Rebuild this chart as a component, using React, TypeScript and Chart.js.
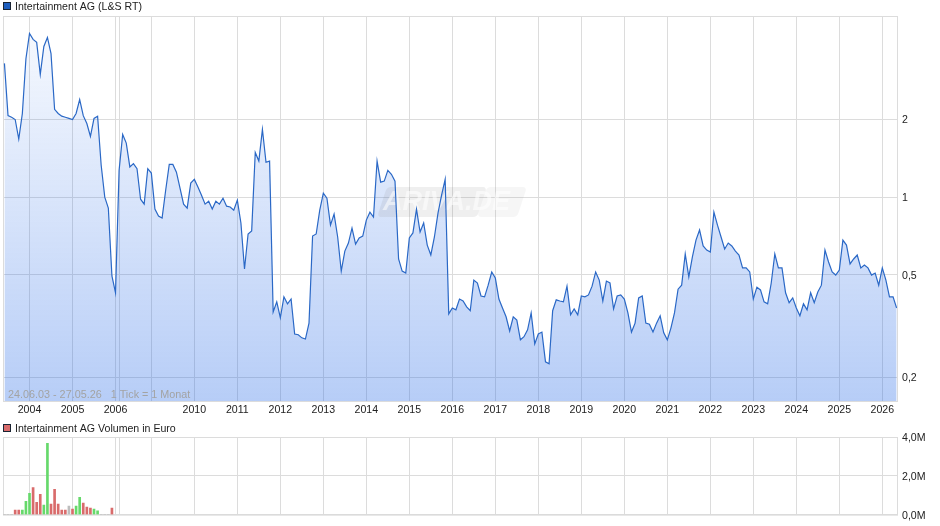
import { useEffect, useRef } from "react"
import { Chart, registerables } from "chart.js"

Chart.register(...registerables)

// monthly closing price (the axis skips 2006-2009 almost completely)
const prices = [
  3.3, 2.07, 2.04, 2.0, 1.68, 2.11, 3.44, 4.31, 4.09, 3.98, 2.99, 3.84, 4.16, 3.6, 2.19, 2.11, 2.06, 2.04, 2.02, 2.0,
  2.11, 2.39, 2.07, 1.93, 1.72, 2.02, 2.06, 1.33, 1.0, 0.907, 0.495, 0.426, 1.27, 1.75, 1.62, 1.31, 1.35, 1.29, 0.982, 0.94,
  1.29, 1.24, 0.899, 0.845, 0.83, 1.064, 1.34, 1.34, 1.25, 1.084, 0.94, 0.907, 1.134, 1.172, 1.094, 1.018, 0.94, 0.965, 0.899, 0.965,
  0.94, 0.991, 0.923, 0.916, 0.891, 0.974, 0.794, 0.527, 0.72, 0.739, 1.49, 1.38, 1.83, 1.365, 1.38, 0.359, 0.393, 0.341, 0.411, 0.386,
  0.403, 0.295, 0.293, 0.285, 0.282, 0.325, 0.707, 0.72, 0.891, 1.036, 0.991, 0.779, 0.86, 0.701, 0.517, 0.618, 0.664, 0.759, 0.658, 0.695,
  0.707, 0.815, 0.875, 0.837, 1.38, 1.143, 1.154, 1.27, 1.226, 1.154, 0.576, 0.517, 0.508, 0.695, 0.727, 0.899, 0.733, 0.794, 0.652, 0.597,
  0.701, 0.868, 1.018, 1.172, 0.353, 0.372, 0.366, 0.403, 0.396, 0.376, 0.363, 0.477, 0.465, 0.414, 0.411, 0.456, 0.513, 0.486, 0.403, 0.372,
  0.344, 0.303, 0.344, 0.334, 0.28, 0.288, 0.306, 0.356, 0.27, 0.295, 0.3, 0.23, 0.226, 0.363, 0.4, 0.396, 0.393, 0.452, 0.35, 0.369,
  0.35, 0.414, 0.411, 0.418, 0.452, 0.513, 0.477, 0.396, 0.473, 0.465, 0.369, 0.414, 0.418, 0.403, 0.356, 0.3, 0.325, 0.407, 0.414, 0.325,
  0.322, 0.3, 0.325, 0.347, 0.298, 0.28, 0.311, 0.356, 0.44, 0.456, 0.602, 0.491, 0.587, 0.682, 0.746, 0.647, 0.624, 0.613, 0.875, 0.779,
  0.701, 0.63, 0.664, 0.647, 0.618, 0.597, 0.532, 0.532, 0.513, 0.403, 0.448, 0.437, 0.393, 0.386, 0.465, 0.602, 0.532, 0.532, 0.426, 0.39,
  0.407, 0.372, 0.347, 0.386, 0.366, 0.426, 0.39, 0.429, 0.456, 0.624, 0.561, 0.513, 0.499, 0.522, 0.682, 0.652, 0.551, 0.576, 0.597, 0.532,
  0.546, 0.532, 0.499, 0.508, 0.456, 0.532, 0.477, 0.411, 0.411, 0.372,
]

// volume in euro per month, 1 = up month, -1 = down month, 0 = unchanged
const volumes = [
  0, 0, 0, 0.24, 0.24, 0.24, 0.69, 1.1, 1.4, 0.64, 1.05, 0.49, 3.68, 0.54, 1.3, 0.54, 0.24, 0.24, 0.44, 0.29,
  0.44, 0.89, 0.59, 0.39, 0.34, 0.29, 0.19, 0, 0, 0, 0.34,
]
const volumeTrend = [0, 0, 0, -1, -1, 1, 1, 1, -1, -1, -1, 1, 1, -1, -1, -1, -1, -1, 0, -1, 1, 1, -1, -1, -1, 1, 1, 0, 0, 0, -1]

const xTickIndex = [7, 19, 31, 32, 41, 53, 65, 77, 89, 101, 113, 125, 137, 149, 161, 173, 185, 197, 209, 221, 233, 245]
const xTickLabels = [
  "2004", "2005", "2006", "", "", "2010", "2011", "2012", "2013", "2014", "2015", "2016", "2017", "2018", "2019", "2020",
  "2021", "2022", "2023", "2024", "2025", "2026",
]
const priceTicks = [0.2, 0.5, 1, 2]
const volumeTicks = [0, 2, 4]

const GRID = "#dcdcdc"
const FONT = "Liberation Sans"
const FONT_SIZE = 10.6

const xAxis = (showLabels: boolean) => ({
  type: "linear",
  offset: false,
  min: -0.4,
  max: 249.1,
  afterBuildTicks: (axis: any) => {
    axis.ticks = xTickIndex.map((value) => ({ value }))
  },
  afterFit: (axis: any) => {
    axis.height = showLabels ? 14 : 10
  },
  grid: { color: GRID, drawTicks: false, offset: false },
  border: { display: false },
  ticks: {
    display: showLabels,
    autoSkip: false,
    maxRotation: 0,
    padding: 3,
    color: "#222",
    font: { family: FONT, size: FONT_SIZE },
    callback: (value: number) => xTickLabels[xTickIndex.indexOf(value)],
  },
})

// plot frame and the legend entry above it
const framePlugin = {
  id: "frame",
  beforeDatasetsDraw(chart: any, _args: any, opts: any) {
    const { ctx, chartArea: a } = chart
    ctx.save()
    ctx.strokeStyle = GRID
    ctx.lineWidth = 1
    ctx.strokeRect(a.left + 0.5, a.top + 0.5, a.width, a.height)
    const boxY = a.top - opts.legendOffset
    ctx.fillStyle = opts.color
    ctx.fillRect(3.5, boxY + 0.5, 7, 7)
    ctx.strokeStyle = "#1a2433"
    ctx.strokeRect(3.5, boxY + 0.5, 7, 7)
    ctx.fillStyle = "#222"
    ctx.font = FONT_SIZE + "px " + FONT
    ctx.textBaseline = "middle"
    ctx.fillText(opts.text, 15, boxY + 5)
    ctx.restore()
  },
}

// ARIVA.DE watermark goes over the area fill, under the line
const FILL_DATASET = 1
const watermarkPlugin = {
  id: "watermark",
  afterDatasetDraw(chart: any, args: any) {
    if (args.index !== FILL_DATASET) return
    const { ctx } = chart
    ctx.save()
    ctx.transform(1, 0, -0.33, 1, 0, 0)
    ctx.translate(0.33 * 202, 0)
    ctx.fillStyle = "rgba(130,130,130,0.13)"
    ctx.beginPath()
    ctx.roundRect(382, 187, 100, 30, 4)
    ctx.fill()
    ctx.fillStyle = "rgba(130,130,130,0.07)"
    ctx.beginPath()
    ctx.roundRect(482, 187, 40, 30, 4)
    ctx.fill()
    ctx.restore()
    ctx.save()
    ctx.fillStyle = "rgba(255,255,255,0.55)"
    ctx.font = "italic bold 27px " + FONT
    ctx.textBaseline = "middle"
    ctx.fillText("ARIVA.DE", 383, 203)
    ctx.restore()
  },
}

const notePlugin = {
  id: "note",
  afterDatasetsDraw(chart: any) {
    const { ctx } = chart
    ctx.save()
    ctx.fillStyle = "#a3a3a3"
    ctx.font = "10.8px " + FONT
    ctx.textBaseline = "middle"
    ctx.fillText("24.06.03 - 27.05.26   1 Tick = 1 Monat", 8, 395)
    ctx.restore()
  },
}

export default function App() {
  const priceRef = useRef<HTMLCanvasElement | null>(null)
  const volumeRef = useRef<HTMLCanvasElement | null>(null)

  useEffect(() => {
    document.body.style.margin = "0"
    const pricePoints = prices.map((y, x) => ({ x, y }))
    const priceChart = new Chart(priceRef.current as HTMLCanvasElement, {
      type: "line",
      data: {
        labels: prices.map((_, i) => i),
        datasets: [
          {
            data: pricePoints,
            borderColor: "#2a68c6",
            borderWidth: 1.2,
            pointRadius: 0,
            tension: 0,
            fill: false,
          },
          {
            data: pricePoints,
            borderWidth: 0,
            pointRadius: 0,
            tension: 0,
            fill: "start",
            backgroundColor: (context: any) => {
              const area = context.chart.chartArea
              if (!area) return "rgba(30,100,230,0.2)"
              const gradient = context.chart.ctx.createLinearGradient(0, area.top, 0, area.bottom)
              gradient.addColorStop(0, "rgba(30,100,230,0.03)")
              gradient.addColorStop(1, "rgba(30,100,230,0.32)")
              return gradient
            },
          },
        ],
      },
      options: {
        animation: false,
        responsive: false,
        layout: { padding: { left: 3, top: 16, right: 0, bottom: 0 } },
        plugins: {
          legend: { display: false },
          tooltip: { enabled: false },
          frame: { text: "Intertainment AG (L&S RT)", color: "#1f5fbf", legendOffset: 14 },
        },
        scales: {
          x: xAxis(true),
          y: {
            type: "logarithmic",
            position: "right",
            min: 0.1622,
            max: 5.037,
            afterBuildTicks: (axis: any) => {
              axis.ticks = priceTicks.map((value) => ({ value }))
            },
            afterFit: (axis: any) => {
              axis.width = 43
            },
            grid: { color: GRID, drawTicks: false },
            border: { display: false },
            ticks: {
              padding: 5,
              labelOffset: 1,
              color: "#222",
              font: { family: FONT, size: FONT_SIZE },
              callback: (value: number) => String(value).replace(".", ","),
            },
          },
        },
      } as any,
      plugins: [framePlugin, watermarkPlugin, notePlugin],
    } as any)

    const volumeChart = new Chart(volumeRef.current as HTMLCanvasElement, {
      type: "bar",
      data: {
        labels: volumes.map((_, i) => i),
        datasets: [
          {
            data: volumes.map((y, x) => ({ x, y })),
            barThickness: 2,
            backgroundColor: volumeTrend.map((t) => (t > 0 ? "#66d96b" : t < 0 ? "#d96b6b" : "#bdbdbd")),
          },
        ],
      },
      options: {
        animation: false,
        responsive: false,
        layout: { padding: { left: 3, top: 22, right: 0, bottom: 0 } },
        plugins: {
          legend: { display: false },
          tooltip: { enabled: false },
          frame: { text: "Intertainment AG Volumen in Euro", color: "#d96b6b", legendOffset: 13 },
        },
        scales: {
          x: xAxis(false),
          y: {
            position: "right",
            min: 0,
            max: 4,
            afterBuildTicks: (axis: any) => {
              axis.ticks = volumeTicks.map((value) => ({ value }))
            },
            afterFit: (axis: any) => {
              axis.width = 43
            },
            grid: { color: GRID, drawTicks: false },
            border: { display: false },
            ticks: {
              padding: 5,
              labelOffset: 1,
              color: "#222",
              font: { family: FONT, size: FONT_SIZE },
              callback: (value: number) => value.toFixed(1).replace(".", ",") + "M",
            },
          },
        },
      } as any,
      plugins: [framePlugin],
    } as any)

    return () => {
      priceChart.destroy()
      volumeChart.destroy()
    }
  }, [])

  return (
    <div style={{ position: "absolute", left: 0, top: 0, width: 940, height: 526, background: "#fff" }}>
      <canvas ref={priceRef} width={940} height={415} style={{ position: "absolute", left: 0, top: 0 }} />
      <canvas ref={volumeRef} width={940} height={111} style={{ position: "absolute", left: 0, top: 415 }} />
    </div>
  )
}
